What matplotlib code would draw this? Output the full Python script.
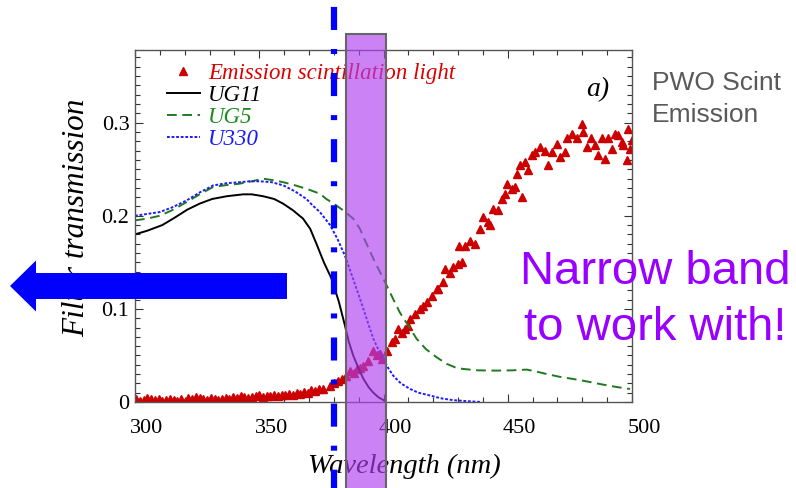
import matplotlib
matplotlib.use("Agg")
import matplotlib.pyplot as plt
import matplotlib.ticker as mticker
from matplotlib.patches import Rectangle, FancyArrow
from matplotlib.transforms import blended_transform_factory, ScaledTranslation

# filter transmission curves
wl_ug11 = [300, 305, 311, 316, 321, 326, 331, 337, 343.5, 347, 351.5, 356, 359.6, 363.5,
           367.6, 370.5, 373, 376, 379, 382, 384.5, 386, 387.8, 390, 391.9, 394, 395.9, 398, 400]
t_ug11 = [0.180, 0.184, 0.190, 0.198, 0.2065, 0.213, 0.218, 0.221, 0.223, 0.223, 0.221, 0.218,
          0.213, 0.206, 0.197, 0.186, 0.170, 0.150, 0.133, 0.108, 0.082, 0.065, 0.050, 0.036,
          0.025, 0.016, 0.010, 0.005, 0.002]

wl_ug5 = [300, 305, 310, 315, 320.8, 326, 331.5, 337, 342, 347, 351.6, 356, 359.7, 364, 369,
          374.4, 377, 380, 383.8, 387.8, 390.5, 393, 395.9, 398.5, 401.3, 404, 406.6, 410,
          413.3, 417, 421.4, 425.4, 429, 432, 438, 445.5, 452, 457.6, 461, 465.7, 471, 476.4,
          482, 488.5, 494, 499.2]
t_ug5 = [0.195, 0.197, 0.200, 0.206, 0.2147, 0.223, 0.231, 0.233, 0.2344, 0.237, 0.2398, 0.238,
         0.236, 0.233, 0.229, 0.2237, 0.218, 0.213, 0.2057, 0.197, 0.186, 0.171, 0.154, 0.140,
         0.125, 0.110, 0.096, 0.082, 0.068, 0.057, 0.048, 0.041, 0.037, 0.0355, 0.034, 0.0337,
         0.034, 0.0348, 0.033, 0.030, 0.027, 0.0247, 0.022, 0.0186, 0.016, 0.014]

wl_u330 = [300, 305, 310, 315, 320.8, 326, 331.5, 337, 342, 346, 350.3, 355, 359.7, 364.5, 369,
           371.5, 374.4, 378.5, 381.5, 384.5, 387.8, 390, 391.9, 394, 395.9, 398, 399.9, 402,
           404, 407, 410.7, 414, 418.7, 423, 428, 433, 439.5]
t_u330 = [0.200, 0.202, 0.204, 0.209, 0.2165, 0.225, 0.2326, 0.235, 0.236, 0.237, 0.237, 0.236,
          0.2326, 0.226, 0.218, 0.211, 0.204, 0.190, 0.175, 0.157, 0.132, 0.115, 0.100, 0.083,
          0.068, 0.056, 0.046, 0.036, 0.028, 0.020, 0.014, 0.010, 0.007, 0.004, 0.002, 0.001,
          0.000]

# PWO scintillation emission (scatter)
wl_em = [300.5, 302, 303.5, 305, 306.5, 308, 309.5, 311, 312.5, 314, 315.5, 317, 318.5, 320,
         321.5, 323, 324.5, 326, 327.5, 329, 330.5, 332, 333.5, 335, 336.5, 338, 339.5, 341,
         342.5, 344, 345.5, 347, 348.5, 350, 351.5, 353, 354.5, 356, 357.5, 359, 360.5, 362,
         363.5, 365, 366.5, 368, 369.5, 371, 372.5, 374,
         375.8, 378.5, 380, 381.8, 383.2, 384.8, 386.5, 388, 389.2, 390.5, 391.9, 393.9, 395.9,
         397.2, 398.6, 399.3, 401.3, 403.3, 404.6, 406, 407.4, 408.7, 410, 410.7, 412.7, 414.7,
         416, 417.4, 419.4, 421.4,
         422, 424, 424.7, 426.8, 428, 430, 431.5, 430.5, 432.8, 434.8, 436.8, 438.8, 440, 442,
         442.9, 444.2, 446.2, 447.6, 448.9, 449.6, 451.6, 452.9, 455.6, 453.6, 454.9, 456.9,
         458.3, 459.6, 461, 463, 465, 466.3, 467.7, 469.7, 471, 473, 473.7, 475.7, 477.7,
         479.7, 480.4, 481.7, 483.7, 485, 486.4, 487.8, 489.1, 490.5, 491.8, 493.2, 494.5,
         495.9, 496.5, 497.8, 498.5, 499.2, 499.9]
em = [0.003, 0.001, 0.002, 0.004, 0.003, 0.002, 0.003, 0.001, 0.002, 0.003, 0.002, 0.001,
      0.003, 0.000, 0.004, 0.003, 0.005, 0.004, 0.003, 0.002, 0.004, 0.003, 0.002, 0.003,
      0.004, 0.003, 0.005, 0.004, 0.006, 0.005, 0.004, 0.005, 0.006, 0.007, 0.005, 0.006,
      0.006, 0.007, 0.006, 0.008, 0.007, 0.009, 0.008, 0.010, 0.009, 0.011, 0.010, 0.013,
      0.012, 0.014,
      0.014, 0.0175, 0.020, 0.023, 0.0247, 0.028, 0.0337, 0.031, 0.0355, 0.036, 0.039, 0.0444,
      0.055, 0.050, 0.0516, 0.046, 0.055, 0.064, 0.0677, 0.0785, 0.074, 0.0785, 0.082, 0.089,
      0.0946, 0.100, 0.103, 0.107, 0.114, 0.1215,
      0.1215, 0.129, 0.143, 0.138, 0.145, 0.148, 0.150, 0.168, 0.167, 0.173, 0.170, 0.186,
      0.1986, 0.193, 0.1896, 0.2075, 0.2057, 0.218, 0.2237, 0.2344, 0.229, 0.2308, 0.220,
      0.245, 0.254, 0.2577, 0.2487, 0.265, 0.2685, 0.274, 0.270, 0.254, 0.2685, 0.2774,
      0.263, 0.2685, 0.283, 0.288, 0.283, 0.299, 0.290, 0.274, 0.283, 0.276, 0.265, 0.283,
      0.261, 0.283, 0.272, 0.288, 0.2864, 0.279, 0.276, 0.2595, 0.2935, 0.272, 0.281]

x_ticks = [300, 350, 400, 450, 500]
y_ticks = [0, 0.1, 0.2, 0.3]
y_tick_labels = ["0", "0.1", "0.2", "0.3"]

band_lo, band_hi = 384.8, 401.2   # highlighted wavelength window
cut_line = 379.9                  # dash-dot marker

plt.rcParams['font.family'] = 'Liberation Serif'
plt.rcParams['lines.scale_dashes'] = False

fig = plt.figure(figsize=(7.96, 4.88), dpi=100)
ax = fig.add_axes([135/796, 1 - 402/488, 497/796, 352/488])

l_em, = ax.plot(wl_em, em, linestyle='none', marker='^', ms=5.8, color='#cc0000',
                label='Emission scintillation light')
l_ug11, = ax.plot(wl_ug11, t_ug11, color='black', lw=1.4, label='UG11')
l_ug5, = ax.plot(wl_ug5, t_ug5, color='#1f7a1f', lw=1.4, linestyle=(0, (7, 4)), label='UG5')
l_u330, = ax.plot(wl_u330, t_u330, color='#1a1aff', lw=1.4, linestyle=(0, (2, 1.3)), label='U330')

ax.set_xlim(300, 500)
ax.set_ylim(0, 0.378)
ax.set_xticks(x_ticks)
ax.set_yticks(y_ticks)
ax.set_yticklabels(y_tick_labels)
ax.xaxis.set_minor_locator(mticker.MultipleLocator(10))
ax.yaxis.set_minor_locator(mticker.MultipleLocator(0.01))
ax.tick_params(which='both', direction='in', top=True, right=True, colors='#333333', width=0.8)
ax.tick_params(which='major', length=6, labelsize=16, labelcolor='black')
ax.tick_params(which='minor', length=3.5)
ax.tick_params(axis='x', pad=12)
ax.tick_params(axis='y', pad=4)
for lab in ax.get_xticklabels():
    lab.set_transform(lab.get_transform() + ScaledTranslation(0.12, 0, fig.dpi_scale_trans))
for s in ax.spines.values():
    s.set_color('#555555')
    s.set_linewidth(1.0)

ax.set_xlabel('Wavelength (nm)', fontsize=20.5, fontstyle='italic', va='center')
ax.xaxis.set_label_coords(0.541, -0.182)
ax.set_ylabel('Filter transmission', fontsize=22.5, fontstyle='italic', va='center')
ax.yaxis.set_label_coords(-0.117, 0.523)

leg = ax.legend(handles=[l_em, l_ug11, l_ug5, l_u330], loc='upper left',
                bbox_to_anchor=(0.064, 0.964), frameon=False, borderpad=0, borderaxespad=0,
                handlelength=1.45, handletextpad=0.35, labelspacing=0.05, numpoints=1,
                prop={'family': 'Liberation Serif', 'style': 'italic', 'size': 16.5})
for t, c in zip(leg.get_texts(), ['#dd0000', 'black', '#1f8a1f', '#1a1aff']):
    t.set_color(c)

ax.text(486.3, 0.336, 'a)', fontsize=20, fontstyle='italic', ha='center', va='center')

# highlighted band and dash-dot marker, running past the axes
bt = blended_transform_factory(ax.transData, ax.transAxes)
ax.add_patch(Rectangle((band_lo, -0.3), band_hi - band_lo, 1.345, transform=bt, clip_on=False,
                       facecolor=(0.69, 0.25, 0.94, 0.65), edgecolor='#666666', lw=1.5, zorder=6))
ax.plot([cut_line, cut_line], [1.15, -0.25], transform=bt, clip_on=False, color='#0000ff',
        lw=4.5, linestyle=(41.9, (16.6, 13.7, 3.6, 13.7)), dash_capstyle='butt', zorder=6)

fig.add_artist(FancyArrow(2.87, 2.02, -2.77, 0, width=0.26, head_width=0.51, head_length=0.26,
                          length_includes_head=True, transform=fig.dpi_scale_trans,
                          color='#0000ff', lw=0))

fig.text(652/796, 1 - 99/488, 'PWO Scint\nEmission', family='Liberation Sans', fontsize=19,
         color='#595959', ha='left', va='center', linespacing=1.4)
fig.text(655/796, 1 - 300/488, 'Narrow band\nto work with!', family='Liberation Sans',
         fontsize=34, color='#9900ff', ha='center', va='center', multialignment='center',
         linespacing=1.35)

fig.savefig('out.png', dpi=100)
